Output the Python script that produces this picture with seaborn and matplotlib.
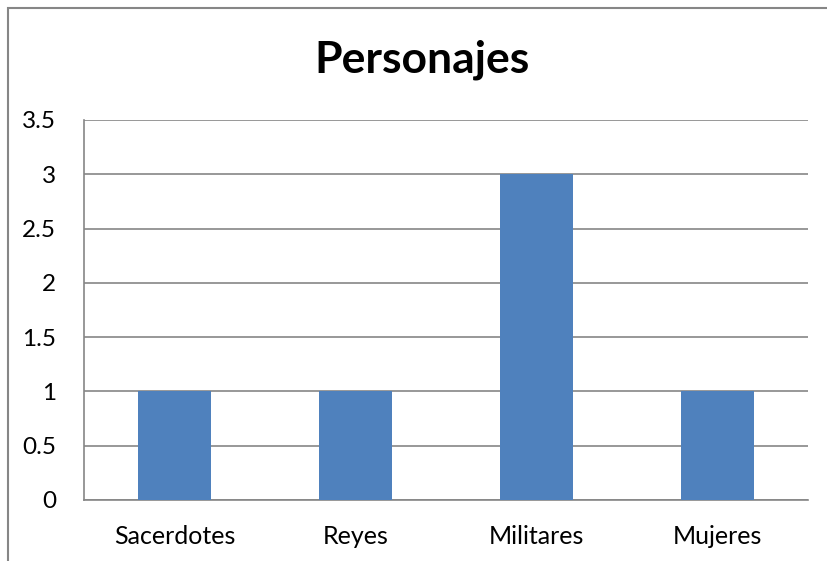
import numpy as np
import pandas as pd
import seaborn as sns
import matplotlib.pyplot as plt
from matplotlib.patches import Rectangle

categorias = ['Sacerdotes', 'Reyes', 'Militares', 'Mujeres']
valores = [1, 1, 3, 1]
yticks = [0, 0.5, 1, 1.5, 2, 2.5, 3, 3.5]

df = pd.DataFrame({'personaje': categorias, 'n': valores})

sns.set_style('white')
plt.rcParams['font.family'] = ['Lato', 'DejaVu Sans']
gris = '#868686'

W, H = 828, 561
fig = plt.figure(figsize=(W / 100, H / 100), dpi=100)
ax = fig.add_axes([84 / W, 1 - 500 / H, (808 - 84) / W, (500 - 120) / H])

sns.barplot(data=df, x='personaje', y='n', color='#4F81BD', width=0.4,
            saturation=1, linewidth=0, ax=ax, zorder=3)

ax.set_ylim(0, 3.5)
ax.set_xlim(-0.5, len(categorias) - 0.5)
ax.set_yticks(yticks)
ax.set_yticklabels([f'{t:g}' for t in yticks])
ax.yaxis.grid(True, color=gris, linewidth=1.2, zorder=0)
ax.set_axisbelow(True)
ax.set_xlabel('')
ax.set_ylabel('')

for s in ['top', 'right']:
    ax.spines[s].set_visible(False)
for s in ['left', 'bottom']:
    ax.spines[s].set_color(gris)
    ax.spines[s].set_linewidth(1.2)

ax.tick_params(axis='y', length=8, color=gris, width=1.2, labelsize=17.5,
               pad=12, labelcolor='black')
ax.tick_params(axis='x', which='major', length=0, labelsize=18, pad=18,
               labelcolor='black')
ax.set_xticks(np.arange(-0.5, len(categorias)), minor=True)
ax.tick_params(axis='x', which='minor', length=8, color=gris, width=1.2)

fig.text(422 / W, 1 - 60 / H, 'Personajes', ha='center', va='center',
         fontsize=32, fontweight='bold', color='black')

fig.patches.append(Rectangle((8 / W, -0.1), 1.2, 1.1 - 8 / H,
                             transform=fig.transFigure, fill=False,
                             edgecolor=gris, linewidth=1.5))

fig.savefig('out.png', dpi=100)
